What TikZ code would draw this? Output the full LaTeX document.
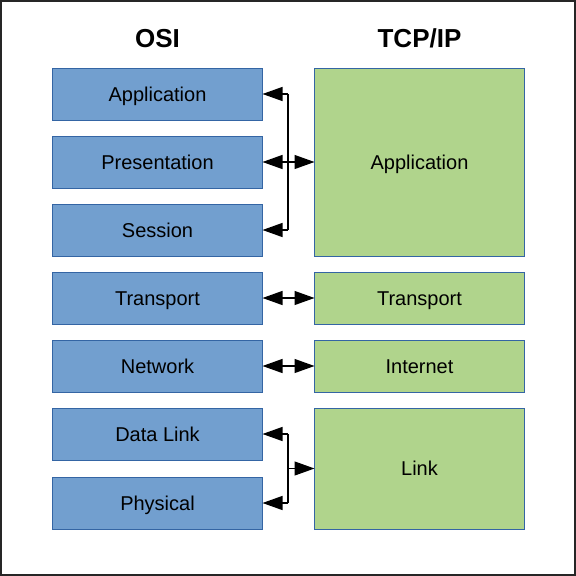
\documentclass[tikz,border=0pt]{standalone}
\usepackage{fontspec}
\setmainfont{Liberation Sans}
\usetikzlibrary{positioning}
\usetikzlibrary{arrows.meta}
\definecolor{osiblue}{RGB}{114,159,207}
\definecolor{osiedge}{RGB}{52,101,164}
\definecolor{tcpgreen}{RGB}{176,212,140}
\tikzset{>={Triangle[length=20pt,width=14pt]}}

\begin{document}
\begin{tikzpicture}[x=1pt,y=-1pt]
          \tikzstyle{osi} = [draw=osiedge, fill=osiblue, line width=1pt, rectangle, inner sep=0pt, outer sep=0pt, minimum width=210pt, minimum height=52pt, text height=16pt, text depth=2pt, font=\fontsize{20}{24}\selectfont]
          \tikzstyle{tcp} = [draw=osiedge, fill=tcpgreen, line width=1pt, rectangle, inner sep=0pt, outer sep=0pt, minimum width=210pt, text height=16pt, text depth=2pt, font=\fontsize{20}{24}\selectfont]
          \tikzstyle{head} = [inner sep=0pt, text height=19pt, text depth=0pt, font=\fontsize{26}{30}\selectfont\bfseries]
          \tikzstyle{link} = [line width=1.2pt, black]
          \useasboundingbox (0,0) rectangle (576,576);
          \draw[line width=2pt, black!85] (1,1) rectangle (575,575);

          % OSI column
          \node[head] (osih) at (157.5, 38) {OSI};
          \node[osi] (app) at (157.5, 94) {Application};
          \node[osi, below = 16pt of app] (pres) {Presentation};
          \node[osi, below = 16pt of pres] (sess) {Session};
          \node[osi, below = 16pt of sess] (trans) {Transport};
          \node[osi, below = 16pt of trans] (net) {Network};
          \node[osi, below = 16pt of net] (dlink) {Data Link};
          \node[osi, below = 17pt of dlink] (phys) {Physical};

          % TCP/IP column
          \node[head] (tcph) at (419.5, 38) {TCP/IP};
          \node[tcp, minimum height=188pt] (tapp) at (419.5, 162) {Application};
          \node[tcp, minimum height=52pt] (ttrans) at (419.5, 298) {Transport};
          \node[tcp, minimum height=52pt] (tnet) at (419.5, 366) {Internet};
          \node[tcp, minimum height=121pt] (tlink) at (419.5, 468.5) {Link};

          % connectors
          \coordinate (bapp) at (288, 94);
          \coordinate (bsess) at (288, 230);
          \draw[link] (bapp) -- (bsess);
          \draw[link, ->] (bapp) -- (app.east);
          \draw[link, ->] (bsess) -- (sess.east);
          \draw[link, <->] (pres.east) -- (tapp.west |- pres.east);
          \draw[link, <->] (trans.east) -- (ttrans.west);
          \draw[link, <->] (net.east) -- (tnet.west);

          \coordinate (bdl) at (288, 434);
          \coordinate (bph) at (288, 503);
          \coordinate (blk) at (288, 468.5);
          \draw[link] (bdl) -- (bph);
          \draw[link, ->] (bdl) -- (dlink.east);
          \draw[link, ->] (bph) -- (phys.east);
          \draw[link, ->] (blk) -- (tlink.west);
        \end{tikzpicture}
\end{document}
